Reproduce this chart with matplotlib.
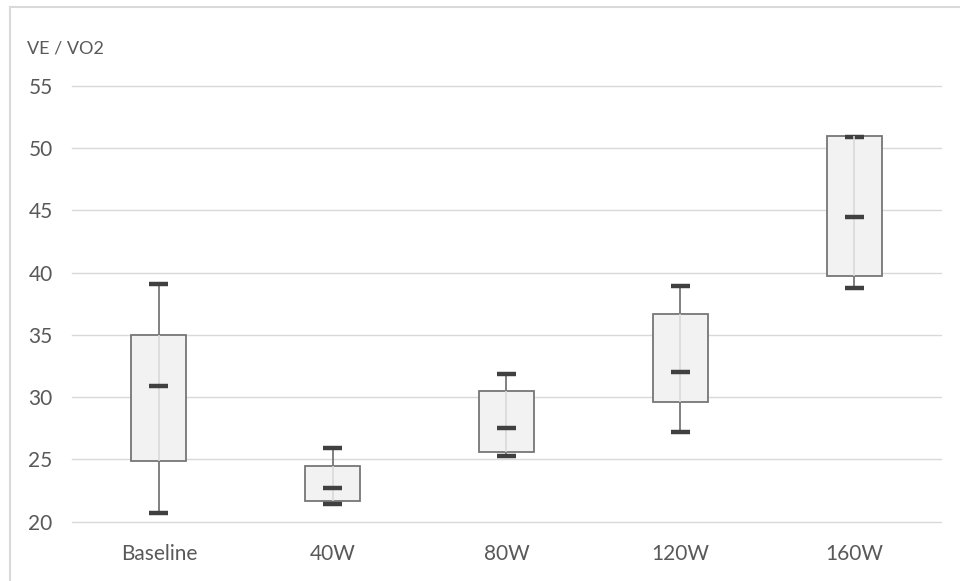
import matplotlib
matplotlib.use("Agg")
import matplotlib.pyplot as plt
from matplotlib.lines import Line2D

categories = ["Baseline", "40W", "80W", "120W", "160W"]
whislo = [20.7, 21.4, 25.3, 27.2, 38.8]
q1 = [24.9, 21.7, 25.6, 29.6, 39.7]
med = [30.9, 22.7, 27.5, 32.0, 44.5]
q3 = [35.0, 24.5, 30.5, 36.7, 51.0]
whishi = [39.1, 25.9, 31.9, 38.9, 50.9]
yticks = [20, 25, 30, 35, 40, 45, 50, 55]

plt.rcParams['font.family'] = ['Lato', 'DejaVu Sans']

fig = plt.figure(figsize=(9.6, 5.81), dpi=100)
ax = fig.add_axes([72/960, 1-521.7/581, (941-72)/960, (521.7-86)/581])

stats = []
for i, c in enumerate(categories):
    stats.append(dict(label=c, whislo=whislo[i], q1=q1[i], med=med[i], q3=q3[i], whishi=whishi[i], fliers=[]))

pos = list(range(len(categories)))
ax.bxp(stats, positions=pos, widths=0.317, patch_artist=True, showfliers=False,
       capwidths=0.11,
       boxprops=dict(facecolor='#f2f2f2', edgecolor='#767676', linewidth=1.3),
       whiskerprops=dict(color='#767676', linewidth=1.3),
       capprops=dict(color='#404040', linewidth=3.2, solid_capstyle='butt'),
       medianprops=dict(linewidth=0), zorder=3)
ax.vlines(pos, q1, q3, colors='#d9d9d9', linewidth=1.2, zorder=4)
ax.hlines(med, [p - 0.055 for p in pos], [p + 0.055 for p in pos], colors='#404040', linewidth=3.2, zorder=5)

ax.set_xlim(-0.5, 4.5)
ax.set_ylim(20, 55)
ax.set_yticks(yticks)
ax.set_xticks(pos)
ax.set_xticklabels(categories)
ax.grid(axis='y', color='#d9d9d9', linewidth=1.0, zorder=0)
for gl in ax.get_ygridlines():
    gl.set_clip_on(False)
ax.set_axisbelow(True)
for s in ax.spines.values():
    s.set_visible(False)
ax.tick_params(axis='both', length=0, colors='#595959')
ax.tick_params(axis='y', labelsize=15, pad=14)
ax.tick_params(axis='x', labelsize=15, pad=16)

fig.text(27/960, 1-48.5/581, "VE / VO2", fontsize=13, color='#595959', va='center', ha='left')

# chart area border
fig.add_artist(Line2D([9.5/960, 9.5/960], [0, 1-7/581], transform=fig.transFigure, color='#d9d9d9', linewidth=1.5))
fig.add_artist(Line2D([9.5/960, 1], [1-7/581, 1-7/581], transform=fig.transFigure, color='#d9d9d9', linewidth=1.5))

fig.savefig("out.png", dpi=100)
